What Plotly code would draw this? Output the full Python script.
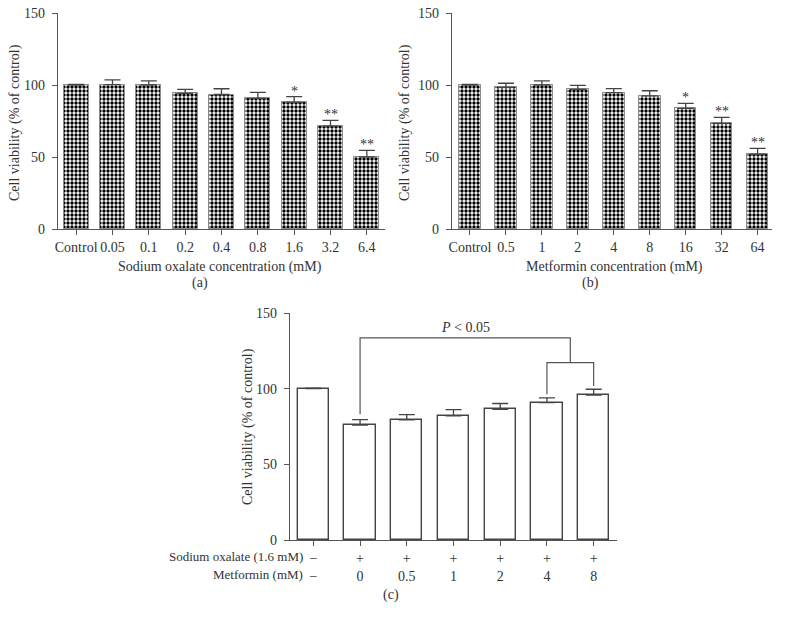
import plotly.graph_objects as go

W, H = 785, 622

# ---------------- data ----------------
a_labels = ["Control", "0.05", "0.1", "0.2", "0.4", "0.8", "1.6", "3.2", "6.4"]
a_values = [100.0, 100.2, 100.0, 94.2, 93.4, 90.7, 88.0, 71.5, 50.0]
a_errors = [0.5, 3.3, 2.8, 2.8, 4.0, 4.2, 3.9, 4.0, 4.6]
a_stars = ["", "", "", "", "", "", "*", "**", "**"]

b_labels = ["Control", "0.5", "1", "2", "4", "8", "16", "32", "64"]
b_values = [100.0, 98.4, 100.0, 97.0, 94.7, 92.4, 83.8, 73.4, 51.9]
b_errors = [0.5, 2.8, 2.8, 2.8, 2.8, 3.6, 3.5, 4.1, 4.1]
b_stars = ["", "", "", "", "", "", "*", "**", "**"]

c_oxalate = ["−", "+", "+", "+", "+", "+", "+"]
c_metformin = ["−", "0", "0.5", "1", "2", "4", "8"]
c_values = [100.1, 75.9, 79.4, 82.0, 86.4, 90.8, 95.7]
c_errors = [0.3, 3.7, 3.5, 4.2, 3.8, 3.1, 3.9]

FONT = "Liberation Serif"
FS = 14
TXT = "#333333"
AX = "#555555"


def px_x(p):
    return p / W


def px_y(p):
    return (H - p) / H


fig = go.Figure()

pattern = dict(shape=".", size=4, solidity=0.55, fgcolor="black", bgcolor="white", fillmode="replace")

fig.add_trace(go.Bar(
    x=list(range(len(a_labels))), y=a_values, width=0.68,
    marker=dict(color="white", pattern=pattern, line=dict(color="#8a8a8a", width=1)),
    error_y=dict(type="data", symmetric=False, array=a_errors, arrayminus=[0] * len(a_errors),
                 color="#444444", thickness=1.3, width=8),
    xaxis="x", yaxis="y"))

fig.add_trace(go.Bar(
    x=list(range(len(b_labels))), y=b_values, width=0.6,
    marker=dict(color="white", pattern=pattern, line=dict(color="#8a8a8a", width=1)),
    error_y=dict(type="data", symmetric=False, array=b_errors, arrayminus=[0] * len(b_errors),
                 color="#444444", thickness=1.3, width=8),
    xaxis="x2", yaxis="y2"))

fig.add_trace(go.Bar(
    x=list(range(len(c_values))), y=c_values, width=0.67,
    marker=dict(color="white", line=dict(color="#444444", width=1.4)),
    error_y=dict(type="data", symmetric=False, array=c_errors, arrayminus=[0] * len(c_errors),
                 color="#444444", thickness=1.3, width=8),
    xaxis="x3", yaxis="y3"))

axis_common = dict(showline=True, linecolor=AX, linewidth=1.2, ticks="outside", ticklen=5,
                   tickcolor=AX, tickwidth=1.2, showgrid=False, zeroline=False, automargin=False,
                   tickfont=dict(family=FONT, size=FS, color=TXT), fixedrange=True)

yticks = [0, 50, 100, 150]

fig.update_layout(
    template="none",
    width=W, height=H, margin=dict(l=0, r=0, t=0, b=0, pad=0, autoexpand=False),
    paper_bgcolor="white", plot_bgcolor="white", showlegend=False, bargap=0,
    font=dict(family=FONT, size=FS, color=TXT),
    xaxis=dict(axis_common, domain=[px_x(58), px_x(385)], range=[-0.5, 8.5],
               tickmode="array", tickvals=list(range(len(a_labels))), ticktext=a_labels, anchor="y"),
    yaxis=dict(axis_common, domain=[px_y(229), px_y(13)], range=[0, 150],
               tickmode="array", tickvals=yticks, anchor="x", ticklabelstandoff=4),
    xaxis2=dict(axis_common, domain=[px_x(452), px_x(772)], range=[-0.5, 8.4],
                tickmode="array", tickvals=list(range(len(b_labels))), ticktext=b_labels, anchor="y2"),
    yaxis2=dict(axis_common, domain=[px_y(229), px_y(13)], range=[0, 150],
                tickmode="array", tickvals=yticks, anchor="x2", ticklabelstandoff=4),
    xaxis3=dict(axis_common, domain=[px_x(290), px_x(617)], range=[-0.5, 6.5],
                tickmode="array", tickvals=list(range(len(c_values))),
                ticktext=[f"{o}<br>{m}" for o, m in zip(c_oxalate, c_metformin)], anchor="y3"),
    yaxis3=dict(axis_common, domain=[px_y(540), px_y(313)], range=[0, 150],
                tickmode="array", tickvals=yticks, anchor="x3", ticklabelstandoff=4),
)

ann = []


def paper_text(text, x, y, angle=0, xanchor="center", size=FS):
    ann.append(dict(text=text, x=px_x(x), y=px_y(y), xref="paper", yref="paper",
                    showarrow=False, textangle=angle, xanchor=xanchor, yanchor="middle",
                    font=dict(family=FONT, size=size, color=TXT)))


paper_text("Cell viability (% of control)", 15, 123, angle=-90)
paper_text("Sodium oxalate concentration (mM)", 220, 267)
paper_text("(a)", 200, 283)
paper_text("Cell viability (% of control)", 405, 123, angle=-90)
paper_text("Metformin concentration (mM)", 614, 267)
paper_text("(b)", 590, 283)
paper_text("Cell viability (% of control)", 248, 427, angle=-90)
paper_text("Sodium oxalate (1.6 mM)", 305, 556.5, xanchor="right", size=13)
paper_text("Metformin (mM)", 305, 574, xanchor="right", size=13)
paper_text("(c)", 391, 595)

for xr, yr, vals, errs, stars in [("x", "y", a_values, a_errors, a_stars),
                                  ("x2", "y2", b_values, b_errors, b_stars)]:
    for i, (v, e, s) in enumerate(zip(vals, errs, stars)):
        if s:
            ann.append(dict(text=s, x=i, y=v + e, xref=xr, yref=yr, showarrow=False,
                            xanchor="center", yanchor="bottom", yshift=-4,
                            font=dict(family=FONT, size=FS, color=TXT)))

ann.append(dict(text="<i>P</i> < 0.05", x=3.26, y=140.7, xref="x3", yref="y3", showarrow=False,
                font=dict(family=FONT, size=FS, color=TXT)))
fig.update_layout(annotations=ann)

# significance brackets in panel (c)
brackets = [
    [(1, 83.1), (1, 133.5), (5.5, 133.5), (5.5, 117.2)],
    [(5, 96.3), (5, 117.2), (6, 117.2), (6, 101.8)],
]
for pts in brackets:
    path = "M " + " L ".join(f"{x},{y}" for x, y in pts)
    fig.add_shape(type="path", path=path, xref="x3", yref="y3",
                  line=dict(color=AX, width=1.2))

fig.write_html("out.html", config={"displayModeBar": False},
               post_script="document.body.style.margin='0';document.body.style.padding='0';")
